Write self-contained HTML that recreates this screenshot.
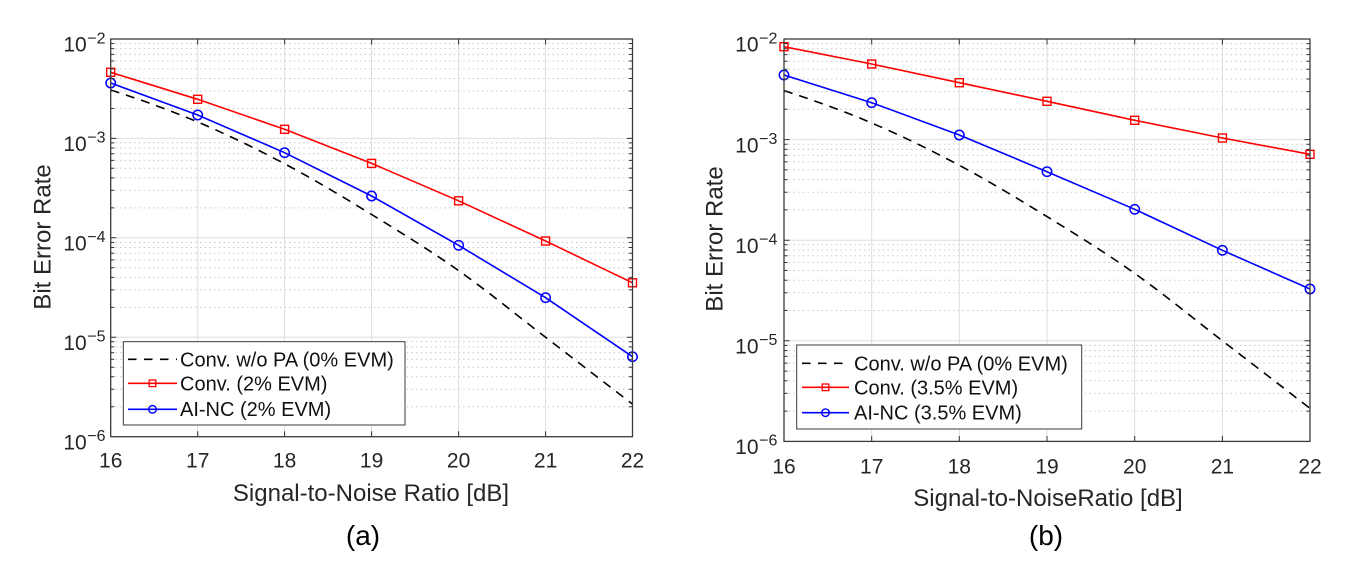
<!DOCTYPE html>
<html>
<head>
<meta charset="utf-8">
<style>
html,body{margin:0;padding:0;background:#fff;}
svg{display:block;}
text{font-family:"Liberation Sans",Arial,sans-serif;}
</style>
</head>
<body>
<svg width="1361" height="566" viewBox="0 0 1361 566" xmlns="http://www.w3.org/2000/svg">
<rect x="0" y="0" width="1361" height="566" fill="#fff"/>

<!-- ================= LEFT PLOT ================= -->
<rect x="110.7" y="39" width="521.8" height="397.7" fill="#fff"/>
<!-- minor grid -->
<path fill="none" stroke="#c4c4c4" stroke-width="1" stroke-dasharray="1.4 3.3" d="
M110.7 406.8H632.5M110.7 389.3H632.5M110.7 376.8H632.5M110.7 367.2H632.5M110.7 359.3H632.5M110.7 352.7H632.5M110.7 346.9H632.5M110.7 341.8H632.5
M110.7 307.4H632.5M110.7 289.9H632.5M110.7 277.4H632.5M110.7 267.8H632.5M110.7 259.9H632.5M110.7 253.3H632.5M110.7 247.5H632.5M110.7 242.4H632.5
M110.7 207.9H632.5M110.7 190.4H632.5M110.7 177.9H632.5M110.7 168.3H632.5M110.7 160.4H632.5M110.7 153.8H632.5M110.7 148.0H632.5M110.7 142.9H632.5
M110.7 108.5H632.5M110.7 91.0H632.5M110.7 78.5H632.5M110.7 68.9H632.5M110.7 61.0H632.5M110.7 54.4H632.5M110.7 48.6H632.5M110.7 43.5H632.5"/>
<!-- major grid -->
<path fill="none" stroke="#dedede" stroke-width="1" d="
M110.7 138.4H632.5M110.7 237.8H632.5M110.7 337.3H632.5
M197.7 39V436.7M284.6 39V436.7M371.6 39V436.7M458.6 39V436.7M545.6 39V436.7"/>

<!-- series -->
<path fill="none" stroke="#000" stroke-width="1.6" stroke-dasharray="9 7" d="M110.7 90.0C139.7 99.3 168.7 109.7 197.7 122.0C226.7 134.3 255.6 148.4 284.6 163.8C313.6 179.2 342.6 196.7 371.6 214.5C400.6 232.3 429.6 250.1 458.6 270.6C487.6 291.1 516.6 315.05 545.6 337.3C574.6 359.55 603.5 381.8 632.5 404.1"/>
<polyline fill="none" stroke="#ff0000" stroke-width="1.6" points="110.7,72.3 197.7,99.3 284.6,129.3 371.6,163.4 458.6,200.8 545.6,241.0 632.5,282.8"/>
<g fill="none" stroke="#ff0000" stroke-width="1.4">
<rect x="106.7" y="68.3" width="8" height="8"/><rect x="193.7" y="95.3" width="8" height="8"/><rect x="280.6" y="125.3" width="8" height="8"/><rect x="367.6" y="159.4" width="8" height="8"/><rect x="454.6" y="196.8" width="8" height="8"/><rect x="541.6" y="237.0" width="8" height="8"/><rect x="628.5" y="278.8" width="8" height="8"/>
</g>
<polyline fill="none" stroke="#0000ff" stroke-width="1.6" points="110.7,83.0 197.7,115.0 284.6,152.7 371.6,196.0 458.6,245.3 545.6,297.7 632.5,356.7"/>
<g fill="none" stroke="#0000ff" stroke-width="1.5">
<circle cx="110.7" cy="83.0" r="4.7"/><circle cx="197.7" cy="115.0" r="4.7"/><circle cx="284.6" cy="152.7" r="4.7"/><circle cx="371.6" cy="196.0" r="4.7"/><circle cx="458.6" cy="245.3" r="4.7"/><circle cx="545.6" cy="297.7" r="4.7"/><circle cx="632.5" cy="356.7" r="4.7"/>
</g>

<!-- ticks -->
<path fill="none" stroke="#333" stroke-width="1" d="
M110.7 406.8h3.5M110.7 389.3h3.5M110.7 376.8h3.5M110.7 367.2h3.5M110.7 359.3h3.5M110.7 352.7h3.5M110.7 346.9h3.5M110.7 341.8h3.5
M110.7 307.4h3.5M110.7 289.9h3.5M110.7 277.4h3.5M110.7 267.8h3.5M110.7 259.9h3.5M110.7 253.3h3.5M110.7 247.5h3.5M110.7 242.4h3.5
M110.7 207.9h3.5M110.7 190.4h3.5M110.7 177.9h3.5M110.7 168.3h3.5M110.7 160.4h3.5M110.7 153.8h3.5M110.7 148.0h3.5M110.7 142.9h3.5
M110.7 108.5h3.5M110.7 91.0h3.5M110.7 78.5h3.5M110.7 68.9h3.5M110.7 61.0h3.5M110.7 54.4h3.5M110.7 48.6h3.5M110.7 43.5h3.5
M632.5 406.8h-3.5M632.5 389.3h-3.5M632.5 376.8h-3.5M632.5 367.2h-3.5M632.5 359.3h-3.5M632.5 352.7h-3.5M632.5 346.9h-3.5M632.5 341.8h-3.5
M632.5 307.4h-3.5M632.5 289.9h-3.5M632.5 277.4h-3.5M632.5 267.8h-3.5M632.5 259.9h-3.5M632.5 253.3h-3.5M632.5 247.5h-3.5M632.5 242.4h-3.5
M632.5 207.9h-3.5M632.5 190.4h-3.5M632.5 177.9h-3.5M632.5 168.3h-3.5M632.5 160.4h-3.5M632.5 153.8h-3.5M632.5 148.0h-3.5M632.5 142.9h-3.5
M632.5 108.5h-3.5M632.5 91.0h-3.5M632.5 78.5h-3.5M632.5 68.9h-3.5M632.5 61.0h-3.5M632.5 54.4h-3.5M632.5 48.6h-3.5M632.5 43.5h-3.5
M110.7 138.4h5.5M110.7 237.8h5.5M110.7 337.3h5.5
M632.5 138.4h-5.5M632.5 237.8h-5.5M632.5 337.3h-5.5
M197.7 436.7v-5.5M284.6 436.7v-5.5M371.6 436.7v-5.5M458.6 436.7v-5.5M545.6 436.7v-5.5
M197.7 39v5.5M284.6 39v5.5M371.6 39v5.5M458.6 39v5.5M545.6 39v5.5"/>
<rect x="110.7" y="39" width="521.8" height="397.7" fill="none" stroke="#3a3a3a" stroke-width="1.3"/>

<!-- legend -->
<rect x="123.3" y="341.7" width="281.7" height="83.3" fill="#fff" stroke="#3a3a3a" stroke-width="1"/>
<line x1="128" y1="359.3" x2="177" y2="359.3" stroke="#000" stroke-width="1.6" stroke-dasharray="8.5 7.5"/>
<line x1="128" y1="383.3" x2="177" y2="383.3" stroke="#ff0000" stroke-width="1.6"/>
<rect x="149.2" y="380" width="6.6" height="6.6" fill="none" stroke="#ff0000" stroke-width="1.3"/>
<line x1="128" y1="409.3" x2="177" y2="409.3" stroke="#0000ff" stroke-width="1.6"/>
<circle cx="152.5" cy="409.3" r="3.8" fill="none" stroke="#0000ff" stroke-width="1.4"/>
<g font-size="20" fill="#111">
<text x="180" y="366.4">Conv. w/o PA (0% EVM)</text>
<text x="180" y="390.6">Conv. (2% EVM)</text>
<text x="180" y="416.2">AI-NC (2% EVM)</text>
</g>

<!-- tick labels -->
<g fill="#262626">
<g font-size="21" text-anchor="end">
<text x="86.7" y="51.7">10</text><text x="86.7" y="151.1">10</text><text x="86.7" y="250.5">10</text><text x="86.7" y="350.0">10</text><text x="86.7" y="449.4">10</text>
</g>
<g font-size="16">
<text x="87.3" y="43.3">−2</text><text x="87.3" y="142.7">−3</text><text x="87.3" y="242.1">−4</text><text x="87.3" y="341.6">−5</text><text x="87.3" y="441.0">−6</text>
</g>
<g font-size="21" text-anchor="middle">
<text x="110.7" y="467.3">16</text><text x="197.7" y="467.3">17</text><text x="284.6" y="467.3">18</text><text x="371.6" y="467.3">19</text><text x="458.6" y="467.3">20</text><text x="545.6" y="467.3">21</text><text x="632.5" y="467.3">22</text>
</g>
<text x="371" y="501" font-size="24" text-anchor="middle">Signal-to-Noise Ratio [dB]</text>
<text transform="translate(50.5,237) rotate(-90)" font-size="24" text-anchor="middle">Bit Error Rate</text>
</g>
<text x="363" y="545" font-size="28" text-anchor="middle" fill="#000">(a)</text>

<!-- ================= RIGHT PLOT ================= -->
<rect x="784" y="39" width="526" height="402.4" fill="#fff"/>
<path fill="none" stroke="#c4c4c4" stroke-width="1" stroke-dasharray="1.4 3.3" d="
M784 411.1H1310M784 393.4H1310M784 380.8H1310M784 371.1H1310M784 363.1H1310M784 356.4H1310M784 350.6H1310M784 345.4H1310
M784 310.5H1310M784 292.8H1310M784 280.2H1310M784 270.5H1310M784 262.5H1310M784 255.8H1310M784 250.0H1310M784 244.8H1310
M784 209.9H1310M784 192.2H1310M784 179.6H1310M784 169.9H1310M784 161.9H1310M784 155.2H1310M784 149.4H1310M784 144.2H1310
M784 109.3H1310M784 91.6H1310M784 79.0H1310M784 69.3H1310M784 61.3H1310M784 54.6H1310M784 48.8H1310M784 43.6H1310"/>
<path fill="none" stroke="#dedede" stroke-width="1" d="
M784 139.6H1310M784 240.2H1310M784 340.8H1310
M871.7 39V441.4M959.3 39V441.4M1047 39V441.4M1134.7 39V441.4M1222.4 39V441.4"/>

<path fill="none" stroke="#000" stroke-width="1.6" stroke-dasharray="9 7" d="M784 90.6C813.2 100.1 842.5 110.55 871.7 123.0C900.9 135.45 930.1 149.7 959.3 165.3C988.5 180.9 1017.8 198.6 1047 216.6C1076.2 234.6 1105.5 252.7 1134.7 273.4C1163.9 294.1 1193.2 318.3 1222.4 340.8C1251.6 363.3 1280.8 385.8 1310 408.4"/>
<polyline fill="none" stroke="#ff0000" stroke-width="1.6" points="784,46.7 871.7,64.0 959.3,82.7 1047,101.3 1134.7,120.3 1222.4,138.0 1310,154.3"/>
<g fill="none" stroke="#ff0000" stroke-width="1.4">
<rect x="780" y="42.7" width="8" height="8"/><rect x="867.7" y="60.0" width="8" height="8"/><rect x="955.3" y="78.7" width="8" height="8"/><rect x="1043" y="97.3" width="8" height="8"/><rect x="1130.7" y="116.3" width="8" height="8"/><rect x="1218.4" y="134.0" width="8" height="8"/><rect x="1306" y="150.3" width="8" height="8"/>
</g>
<polyline fill="none" stroke="#0000ff" stroke-width="1.6" points="784,75.0 871.7,102.7 959.3,135.0 1047,171.7 1134.7,209.3 1222.4,250.3 1310,289.0"/>
<g fill="none" stroke="#0000ff" stroke-width="1.5">
<circle cx="784" cy="75.0" r="4.7"/><circle cx="871.7" cy="102.7" r="4.7"/><circle cx="959.3" cy="135.0" r="4.7"/><circle cx="1047" cy="171.7" r="4.7"/><circle cx="1134.7" cy="209.3" r="4.7"/><circle cx="1222.4" cy="250.3" r="4.7"/><circle cx="1310" cy="289.0" r="4.7"/>
</g>

<path fill="none" stroke="#333" stroke-width="1" d="
M784 411.1h3.5M784 393.4h3.5M784 380.8h3.5M784 371.1h3.5M784 363.1h3.5M784 356.4h3.5M784 350.6h3.5M784 345.4h3.5
M784 310.5h3.5M784 292.8h3.5M784 280.2h3.5M784 270.5h3.5M784 262.5h3.5M784 255.8h3.5M784 250.0h3.5M784 244.8h3.5
M784 209.9h3.5M784 192.2h3.5M784 179.6h3.5M784 169.9h3.5M784 161.9h3.5M784 155.2h3.5M784 149.4h3.5M784 144.2h3.5
M784 109.3h3.5M784 91.6h3.5M784 79.0h3.5M784 69.3h3.5M784 61.3h3.5M784 54.6h3.5M784 48.8h3.5M784 43.6h3.5
M1310 411.1h-3.5M1310 393.4h-3.5M1310 380.8h-3.5M1310 371.1h-3.5M1310 363.1h-3.5M1310 356.4h-3.5M1310 350.6h-3.5M1310 345.4h-3.5
M1310 310.5h-3.5M1310 292.8h-3.5M1310 280.2h-3.5M1310 270.5h-3.5M1310 262.5h-3.5M1310 255.8h-3.5M1310 250.0h-3.5M1310 244.8h-3.5
M1310 209.9h-3.5M1310 192.2h-3.5M1310 179.6h-3.5M1310 169.9h-3.5M1310 161.9h-3.5M1310 155.2h-3.5M1310 149.4h-3.5M1310 144.2h-3.5
M1310 109.3h-3.5M1310 91.6h-3.5M1310 79.0h-3.5M1310 69.3h-3.5M1310 61.3h-3.5M1310 54.6h-3.5M1310 48.8h-3.5M1310 43.6h-3.5
M784 139.6h5.5M784 240.2h5.5M784 340.8h5.5
M1310 139.6h-5.5M1310 240.2h-5.5M1310 340.8h-5.5
M871.7 441.4v-5.5M959.3 441.4v-5.5M1047 441.4v-5.5M1134.7 441.4v-5.5M1222.4 441.4v-5.5
M871.7 39v5.5M959.3 39v5.5M1047 39v5.5M1134.7 39v5.5M1222.4 39v5.5"/>
<rect x="784" y="39" width="526" height="402.4" fill="none" stroke="#3a3a3a" stroke-width="1.3"/>

<rect x="796.7" y="345" width="285" height="84" fill="#fff" stroke="#3a3a3a" stroke-width="1"/>
<line x1="802" y1="363.3" x2="849" y2="363.3" stroke="#000" stroke-width="1.6" stroke-dasharray="8.5 7.5"/>
<line x1="802" y1="387.3" x2="849" y2="387.3" stroke="#ff0000" stroke-width="1.6"/>
<rect x="822.2" y="384" width="6.6" height="6.6" fill="none" stroke="#ff0000" stroke-width="1.3"/>
<line x1="802" y1="412.7" x2="849" y2="412.7" stroke="#0000ff" stroke-width="1.6"/>
<circle cx="825.5" cy="412.7" r="3.8" fill="none" stroke="#0000ff" stroke-width="1.4"/>
<g font-size="20" fill="#111">
<text x="854" y="370.4">Conv. w/o PA (0% EVM)</text>
<text x="854" y="394.6">Conv. (3.5% EVM)</text>
<text x="854" y="419.6">AI-NC (3.5% EVM)</text>
</g>

<g fill="#262626">
<g font-size="21" text-anchor="end">
<text x="758.5" y="51.7">10</text><text x="758.5" y="152.3">10</text><text x="758.5" y="252.9">10</text><text x="758.5" y="353.5">10</text><text x="758.5" y="454.1">10</text>
</g>
<g font-size="16">
<text x="759.1" y="43.3">−2</text><text x="759.1" y="143.9">−3</text><text x="759.1" y="244.5">−4</text><text x="759.1" y="345.1">−5</text><text x="759.1" y="445.7">−6</text>
</g>
<g font-size="21" text-anchor="middle">
<text x="784" y="473.3">16</text><text x="871.7" y="473.3">17</text><text x="959.3" y="473.3">18</text><text x="1047" y="473.3">19</text><text x="1134.7" y="473.3">20</text><text x="1222.4" y="473.3">21</text><text x="1310" y="473.3">22</text>
</g>
<text x="1048" y="506" font-size="24" text-anchor="middle">Signal-to-NoiseRatio [dB]</text>
<text transform="translate(722.5,239) rotate(-90)" font-size="24" text-anchor="middle">Bit Error Rate</text>
</g>
<text x="1046" y="545" font-size="28" text-anchor="middle" fill="#000">(b)</text>
</svg>
</body>
</html>
